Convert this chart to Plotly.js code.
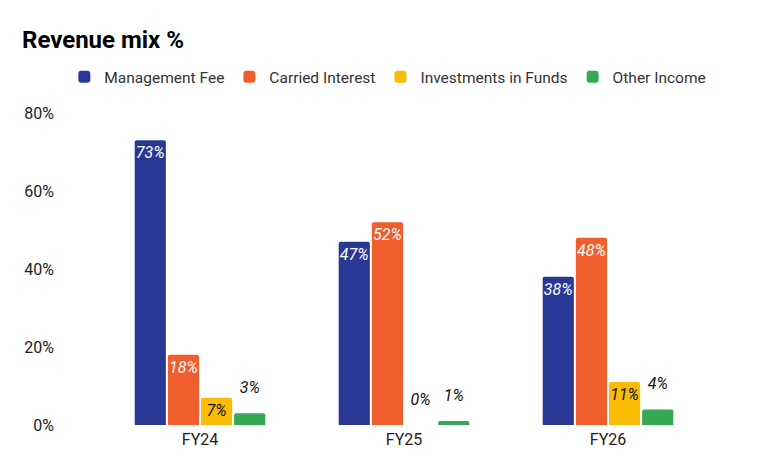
<!DOCTYPE html>
<html>
<head>
<meta charset="utf-8">
<script src="https://cdn.plot.ly/plotly-3.0.1.min.js"></script>
<style>
  html, body { margin: 0; padding: 0; background: #fff; }
  #myDiv { width: 769px; height: 476px; }
</style>
</head>
<body>
<div id="myDiv"></div>
<script>
var categories = ['FY24', 'FY25', 'FY26'];
var seriesNames = ['Management Fee', 'Carried Interest', 'Investments in Funds', 'Other Income'];
var mgmtFee = [0.73, 0.47, 0.38];
var carriedInterest = [0.18, 0.52, 0.48];
var investFunds = [0.07, 0.00, 0.11];
var otherIncome = [0.03, 0.01, 0.04];
var yTicks = [0, 0.2, 0.4, 0.6, 0.8];

var colors = ['#283894', '#F15E2E', '#FBBC05', '#34A853'];
var insideColors = ['#ffffff', '#ffffff', '#111111', '#111111'];
var positions = [
  'inside',
  'inside',
  ['inside', 'outside', 'inside'],
  'outside'
];
var values = [mgmtFee, carriedInterest, investFunds, otherIncome];

// outside labels sit a little higher above the bar in the reference
function templates(pos) {
  var inT = '%{y:.0%}';
  var outT = '%{y:.0%}<br><sup>&nbsp;</sup>';
  if (Array.isArray(pos)) {
    return pos.map(function (p) { return p === 'outside' ? outT : inT; });
  }
  return pos === 'outside' ? outT : inT;
}

var data = [];
for (var i = 0; i < values.length; i++) {
  data.push({
    type: 'bar',
    name: seriesNames[i],
    x: categories,
    y: values[i],
    marker: { color: colors[i] },
    texttemplate: templates(positions[i]),
    textposition: positions[i],
    insidetextanchor: 'end',
    textangle: 0,
    constraintext: 'none',
    cliponaxis: false,
    insidetextfont: { family: 'Roboto', size: 16, color: insideColors[i], style: 'italic' },
    outsidetextfont: { family: 'Roboto', size: 16, color: '#111111', style: 'italic' },
    hoverinfo: 'none'
  });
}

var layout = {
  width: 769,
  height: 476,
  margin: { l: 98, r: 59, t: 113, b: 51 },
  paper_bgcolor: '#ffffff',
  plot_bgcolor: '#ffffff',
  font: { family: 'Roboto', size: 16, color: '#222222' },
  title: {
    text: '<b>Revenue mix %</b>',
    font: { family: 'Roboto', size: 24, color: '#000000' },
    xref: 'container', x: 22 / 769, xanchor: 'left',
    yref: 'container', y: 1 - 40 / 476, yanchor: 'middle'
  },
  showlegend: true,
  legend: {
    orientation: 'h',
    xref: 'paper', x: -0.055, xanchor: 'left',
    yref: 'paper', y: 1.115, yanchor: 'middle',
    font: { family: 'Roboto', size: 15.5, color: '#333333' },
    itemwidth: 30,
    traceorder: 'normal'
  },
  barmode: 'group',
  bargap: 0.35,
  bargroupgap: 0.06,
  barcornerradius: 2,
  xaxis: {
    showgrid: false,
    zeroline: false,
    showline: false,
    ticks: '',
    ticklabelstandoff: 3,
    tickfont: { family: 'Roboto', size: 16, color: '#222222' }
  },
  yaxis: {
    range: [0, 0.8],
    tickvals: yTicks,
    tickformat: '.0%',
    showgrid: false,
    zeroline: false,
    showline: false,
    ticks: '',
    ticklabelstandoff: 43,
    tickfont: { family: 'Roboto', size: 16, color: '#222222' }
  }
};

Plotly.newPlot('myDiv', data, layout, { displayModeBar: false, staticPlot: true });
</script>
</body>
</html>
